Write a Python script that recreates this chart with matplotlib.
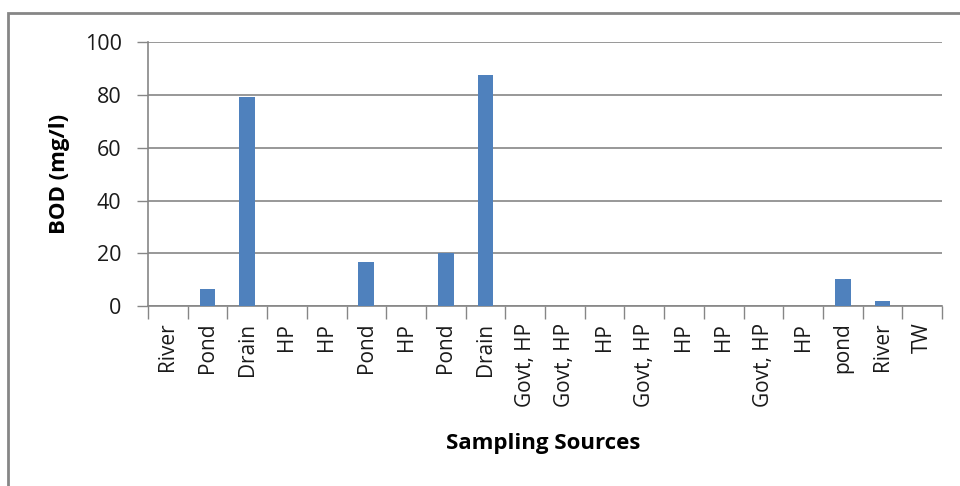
import matplotlib
matplotlib.use("Agg")
import matplotlib.pyplot as plt
from matplotlib.patches import Rectangle
import numpy as np

sources = ["River", "Pond", "Drain", "HP", "HP", "Pond", "HP", "Pond", "Drain",
           "Govt, HP", "Govt, HP", "HP", "Govt, HP", "HP", "HP", "Govt, HP",
           "HP", "pond", "River", "TW"]
bod = [0, 6.3, 79.3, 0, 0, 16.6, 0, 20.0, 87.6, 0, 0, 0, 0, 0, 0, 0, 0, 10.2, 2.0, 0]
y_ticks = [0, 20, 40, 60, 80, 100]

plt.rcParams["font.family"] = ["Open Sans", "DejaVu Sans"]
grey = "#868686"

fig = plt.figure(figsize=(9.6, 4.86), dpi=100)
ax = fig.add_axes([148 / 960, 1 - 306 / 486, (942 - 148) / 960, (306 - 42.3) / 486])

x = np.arange(len(sources))
ax.bar(x, bod, width=0.4, color="#4F81BD", zorder=3)

ax.set_xlim(-0.5, len(sources) - 0.5)
ax.set_ylim(0, 100)
ax.set_yticks(y_ticks)
ax.set_yticklabels([str(v) for v in y_ticks], fontsize=15.5, color="#1a1a1a")
ax.yaxis.grid(True, color=grey, linewidth=1.2, zorder=0)
ax.tick_params(axis="y", length=8, width=1, color=grey, pad=11)

# category labels sit between boundary ticks
ax.set_xticks(x)
ax.set_xticklabels(sources, rotation=90, fontsize=15, color="#1a1a1a")
ax.tick_params(axis="x", which="major", length=0, pad=12)
ax.set_xticks(np.arange(len(sources) + 1) - 0.5, minor=True)
ax.tick_params(axis="x", which="minor", length=9, width=1, color=grey)

for side in ["top", "right"]:
    ax.spines[side].set_visible(False)
for side in ["left", "bottom"]:
    ax.spines[side].set_color(grey)
    ax.spines[side].set_linewidth(1.2)

fig.text(60 / 960, 1 - 174 / 486, "BOD (mg/l)", fontsize=16, fontweight="bold",
         rotation=90, ha="center", va="center")
fig.text(543 / 960, 1 - 444 / 486, "Sampling Sources", fontsize=16,
         fontweight="bold", ha="center", va="center")

# outer chart frame
fig.patches.append(Rectangle((8 / 960, -0.1), 1.2, 1 - 13 / 486 + 0.1,
                             transform=fig.transFigure, fill=False,
                             edgecolor=grey, linewidth=2))

fig.savefig("out.png", dpi=100)
